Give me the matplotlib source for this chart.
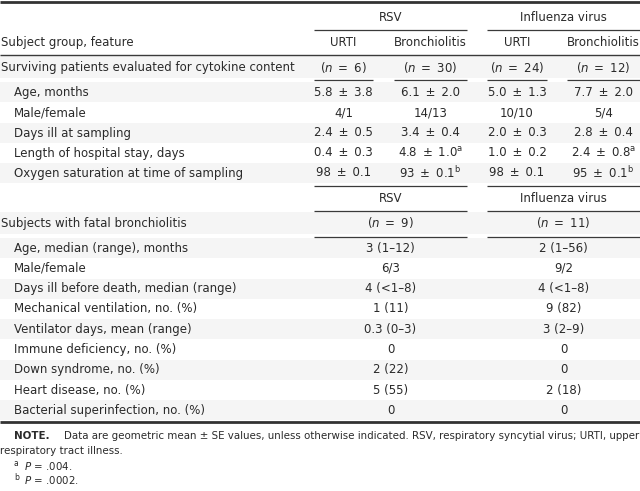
import matplotlib
matplotlib.use("Agg")
import matplotlib.pyplot as plt

plt.rcParams['font.family'] = ['DejaVu Sans']
plt.rcParams['mathtext.fontset'] = 'custom'
plt.rcParams['mathtext.rm'] = 'DejaVu Sans'
plt.rcParams['mathtext.it'] = 'DejaVu Sans:italic'

# ---- data ----
virus_groups = ["RSV", "Influenza virus"]
sub_groups = ["URTI", "Bronchiolitis", "URTI", "Bronchiolitis"]
surv_title = "Surviving patients evaluated for cytokine content"
surv_n = [6, 30, 24, 12]
surv_labels = ["Age, months", "Male/female", "Days ill at sampling",
               "Length of hospital stay, days", "Oxygen saturation at time of sampling"]
surv_values = [
    ["5.8 ± 3.8", "6.1 ± 2.0", "5.0 ± 1.3", "7.7 ± 2.0"],
    ["4/1", "14/13", "10/10", "5/4"],
    ["2.4 ± 0.5", "3.4 ± 0.4", "2.0 ± 0.3", "2.8 ± 0.4"],
    ["0.4 ± 0.3", "4.8 ± 1.0$^\\mathrm{a}$", "1.0 ± 0.2", "2.4 ± 0.8$^\\mathrm{a}$"],
    ["98 ± 0.1", "93 ± 0.1$^\\mathrm{b}$", "98 ± 0.1", "95 ± 0.1$^\\mathrm{b}$"],
]
fatal_title = "Subjects with fatal bronchiolitis"
fatal_n = [9, 11]
fatal_labels = ["Age, median (range), months", "Male/female",
                "Days ill before death, median (range)", "Mechanical ventilation, no. (%)",
                "Ventilator days, mean (range)", "Immune deficiency, no. (%)",
                "Down syndrome, no. (%)", "Heart disease, no. (%)",
                "Bacterial superinfection, no. (%)"]
fatal_values = [
    ["3 (1–12)", "2 (1–56)"],
    ["6/3", "9/2"],
    ["4 (<1–8)", "4 (<1–8)"],
    ["1 (11)", "9 (82)"],
    ["0.3 (0–3)", "3 (2–9)"],
    ["0", "0"],
    ["2 (22)", "0"],
    ["5 (55)", "2 (18)"],
    ["0", "0"],
]
note_bold = "NOTE."
note_text = "Data are geometric mean ± SE values, unless otherwise indicated. RSV, respiratory syncytial virus; URTI, upper"
note_text2 = "respiratory tract illness."
footnotes = [("a", "$\\mathit{P}$ = .004."), ("b", "$\\mathit{P}$ = .0002.")]

# ---- layout (pixels) ----
W, H = 640, 491
fig = plt.figure(figsize=(6.4, 4.91), dpi=100)
ax = fig.add_axes([0, 0, 1, 1])
ax.set_xlim(0, W)
ax.set_ylim(H, 0)
ax.axis('off')

FS = 8.5
TC = '#2a2a2a'
LC = '#3a3a3a'
shade = '#f5f5f5'

grp_spans = [(314, 467), (487, 640)]
sub_spans = [(314, 373), (394, 467), (487, 547), (567, 640)]
sub_cx = [(a + b) / 2 for a, b in sub_spans]
grp_cx = [(a + b) / 2 for a, b in grp_spans]

def hline(y, x0, x1, lw=0.9, c=LC):
    ax.plot([x0, x1], [y, y], color=c, lw=lw, solid_capstyle='butt')

def band(y0, y1):
    ax.axhspan(y0, y1, color=shade, lw=0, zorder=0)

def txt(x, y, s, ha='center', **kw):
    kw.setdefault('fontsize', FS)
    kw.setdefault('color', TC)
    ax.text(x, y, s, ha=ha, va='center', **kw)

SP = "\u2002"
def pm(s):
    return s.replace(" ± ", SP + "±" + SP).replace(" = ", SP + "=" + SP)

# shading
band(55, 78)
band(82, 102)
row_y_surv = [92, 113, 133, 153, 173]
for i in (0, 2, 4):
    band(row_y_surv[i] - 10, row_y_surv[i] + 10)
band(212, 234)
row_y_fatal = [248 + 20.3 * i for i in range(len(fatal_labels))]
for i in (0, 2, 4, 6, 8):
    band(row_y_fatal[i] - 10, row_y_fatal[i] + 10)

# rules
hline(1.5, 0, W, lw=2.0, c='#333333')
for a, b in grp_spans:
    hline(29.5, a, b)
hline(54.5, 0, W, lw=1.0)
for a, b in sub_spans:
    hline(79.5, a, b)
for yy in (185.5, 210.5, 236.5):
    for a, b in grp_spans:
        hline(yy, a, b)
hline(422, 0, W, lw=2.0, c='#333333')

# header
for g, cx in zip(virus_groups, grp_cx):
    txt(cx, 17, g)
txt(1, 42, "Subject group, feature", ha='left')
for s, cx in zip(sub_groups, sub_cx):
    txt(cx, 42, s)

# surviving section
txt(1, 67, surv_title, ha='left')
for n, cx in zip(surv_n, sub_cx):
    txt(cx, 67, pm("($\\mathit{n}$ = %d)" % n))
for lab, vals, y in zip(surv_labels, surv_values, row_y_surv):
    txt(14, y, lab, ha='left')
    for v, cx in zip(vals, sub_cx):
        txt(cx, y, pm(v))

# fatal section
for g, cx in zip(virus_groups, grp_cx):
    txt(cx, 198, g)
txt(1, 224, fatal_title, ha='left')
for n, cx in zip(fatal_n, grp_cx):
    txt(cx, 223, pm("($\\mathit{n}$ = %d)" % n))
for lab, vals, y in zip(fatal_labels, fatal_values, row_y_fatal):
    txt(14, y, lab, ha='left')
    for v, cx in zip(vals, grp_cx):
        txt(cx, y, v)

# notes
NFS = 7.4
txt(14, 436, note_bold, ha='left', fontsize=NFS, fontweight='bold')
txt(64, 436, note_text, ha='left', fontsize=NFS)
txt(0, 451, note_text2, ha='left', fontsize=NFS)
for i, (m, s) in enumerate(footnotes):
    y = 466 + 14.5 * i
    txt(14, y - 3, m, ha='left', fontsize=5.5)
    txt(24, y, s, ha='left', fontsize=NFS)

fig.savefig("out.png", dpi=100)
